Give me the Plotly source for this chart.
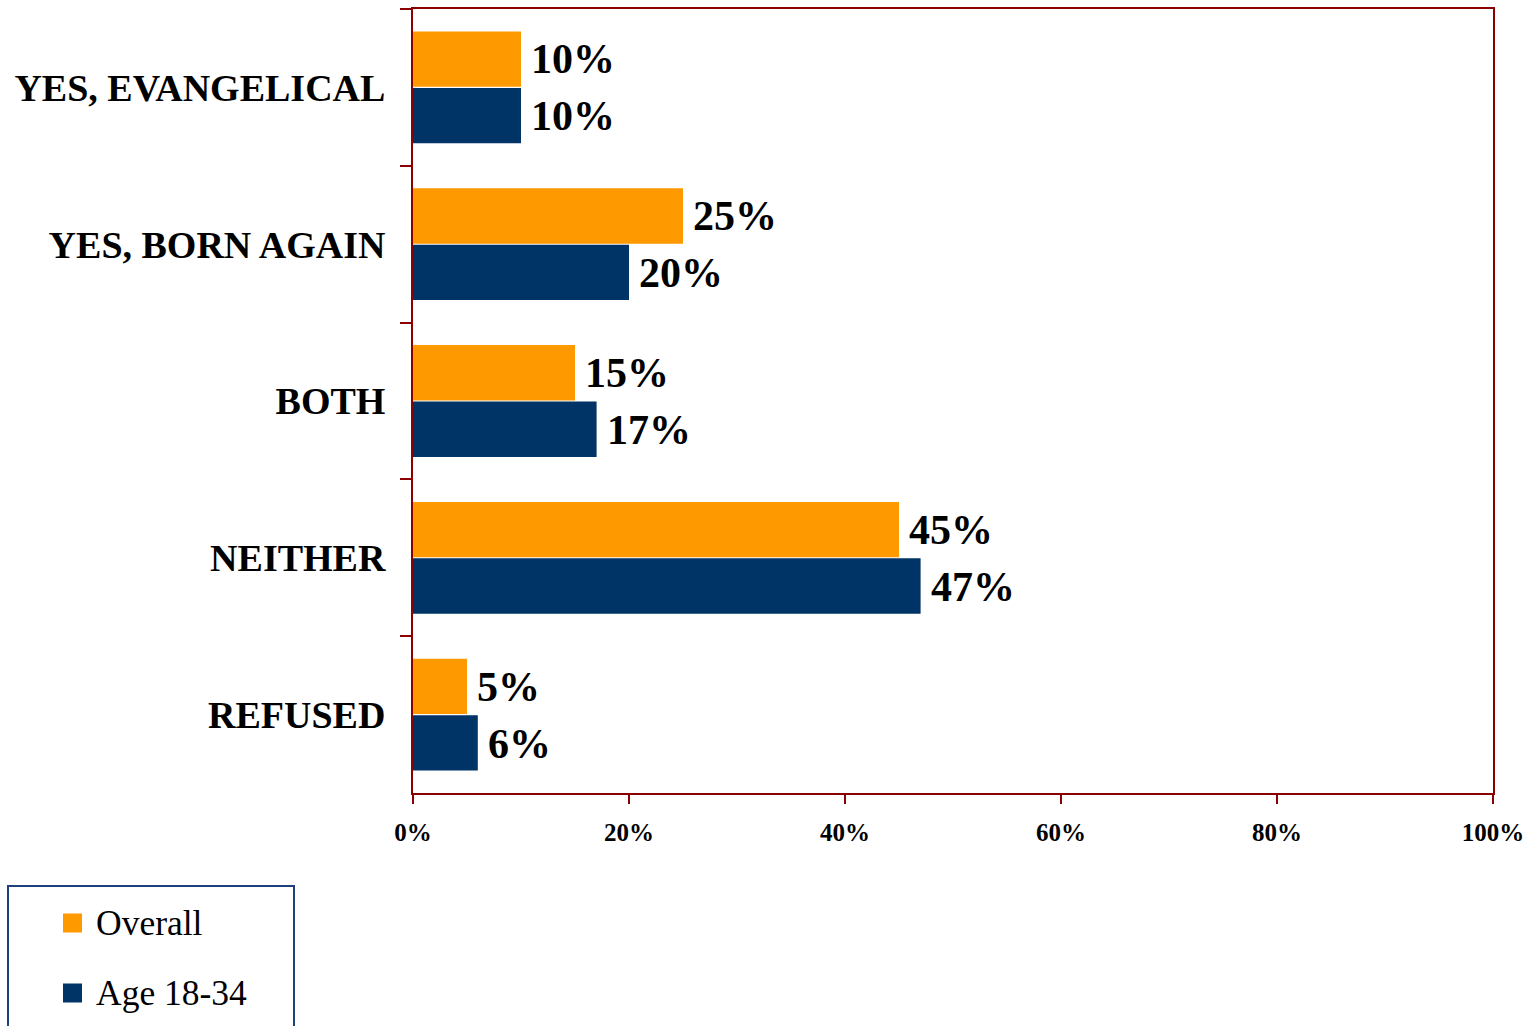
import plotly.graph_objects as go

# Survey responses: self-identification as evangelical / born again
categories = ["YES, EVANGELICAL", "YES, BORN AGAIN", "BOTH", "NEITHER", "REFUSED"]
overall = [0.10, 0.25, 0.15, 0.45, 0.05]
age_18_34 = [0.10, 0.20, 0.17, 0.47, 0.06]
series_names = ["Overall", "Age 18-34"]
series_colors = ["#FF9900", "#003366"]
x_ticks = [0, 0.2, 0.4, 0.6, 0.8, 1.0]

SERIF = "Liberation Serif"
AXIS_RED = "#8B0000"

W, H = 1534, 1026
L, R, T, B = 413, 41, 9, 233
PW, PH = W - L - R, H - T - B


def paper_x(px):
    return (px - L) / PW


def paper_y(py):
    return (H - B - py) / PH


fig = go.Figure()
for name, vals, color in zip(series_names, [overall, age_18_34], series_colors):
    fig.add_trace(go.Bar(
        y=categories, x=vals, orientation="h", name=name,
        marker=dict(color=color, line=dict(width=0)),
        showlegend=False, hoverinfo="skip",
    ))

# value labels just past the end of each bar
annotations = []
for vals, shift in [(overall, 28), (age_18_34, -29)]:
    for cat, v in zip(categories, vals):
        annotations.append(dict(
            x=v, y=cat, xref="x", yref="y", text=f"{v:.0%}",
            xanchor="left", yanchor="middle", xshift=8, yshift=shift,
            showarrow=False,
            font=dict(family=SERIF, size=42, color="black", weight="bold"),
        ))

# legend box drawn below the plot
shapes = [dict(
    type="rect", xref="paper", yref="paper",
    x0=paper_x(8), x1=paper_x(294), y0=paper_y(1045), y1=paper_y(886),
    line=dict(color="#1F3F7F", width=2), fillcolor="white", layer="above",
)]
for i, (name, color) in enumerate(zip(series_names, series_colors)):
    cy = 923 + i * 70
    shapes.append(dict(
        type="rect", xref="paper", yref="paper",
        x0=paper_x(63), x1=paper_x(82), y0=paper_y(cy + 9.5), y1=paper_y(cy - 9.5),
        line=dict(width=0), fillcolor=color, layer="above",
    ))
    annotations.append(dict(
        x=paper_x(94), y=paper_y(cy), xref="paper", yref="paper",
        text=name, xanchor="left", yanchor="middle", showarrow=False,
        font=dict(family=SERIF, size=35.5, color="black"),
    ))

fig.update_layout(
    width=W, height=H,
    margin=dict(l=L, r=R, t=T, b=B, autoexpand=False),
    paper_bgcolor="white", plot_bgcolor="white",
    barmode="group", bargap=0.28, bargroupgap=0.02,
    showlegend=False,
    annotations=annotations, shapes=shapes,
    xaxis=dict(
        range=[0, 1], tickvals=x_ticks, tickformat=".0%",
        ticks="outside", ticklen=9, tickwidth=2, tickcolor=AXIS_RED,
        showline=True, linecolor=AXIS_RED, linewidth=2, mirror=True,
        showgrid=False, zeroline=False,
        tickfont=dict(family=SERIF, size=25, color="black", weight="bold"),
        ticklabelstandoff=7,
    ),
    yaxis=dict(
        type="category", categoryorder="array", categoryarray=categories,
        autorange="reversed", tickson="boundaries",
        ticks="outside", ticklen=11, tickwidth=2, tickcolor=AXIS_RED,
        showline=True, linecolor=AXIS_RED, linewidth=2, mirror=True,
        showgrid=False, zeroline=False,
        tickfont=dict(family=SERIF, size=38, color="black", weight="bold"),
        ticklabelstandoff=18,
    ),
)

fig.write_html("out.html")
